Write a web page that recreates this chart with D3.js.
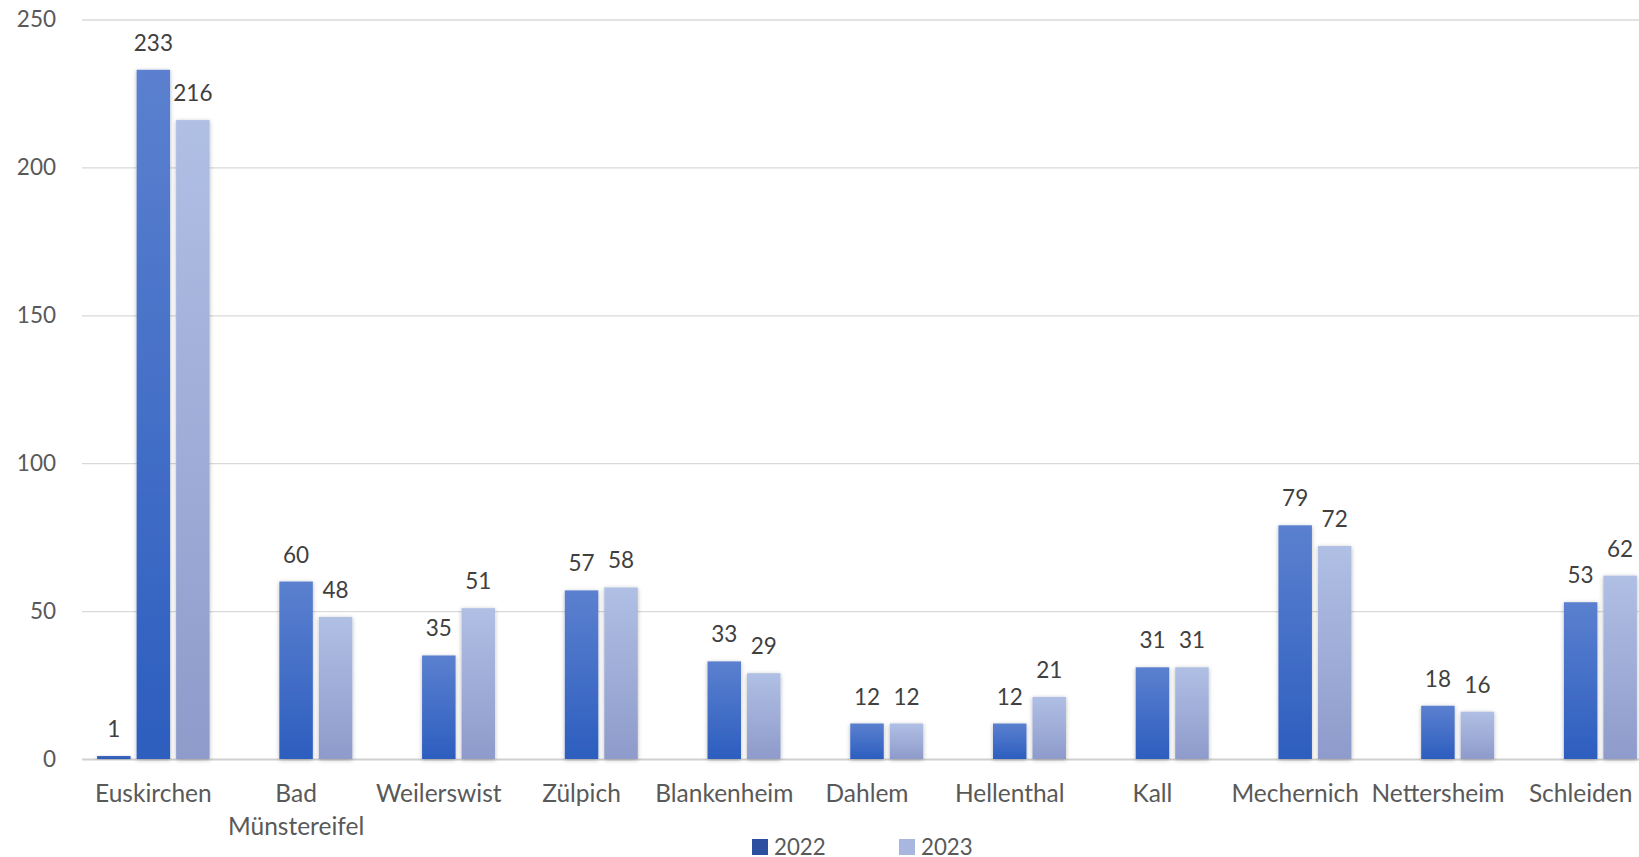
<!DOCTYPE html>
<html><head><meta charset="utf-8">
<script src="https://cdn.jsdelivr.net/npm/d3@7"></script>
<style>
html,body{margin:0;padding:0;background:#fff;overflow:hidden}
svg{display:block;font-family:Lato,"Open Sans",sans-serif}
</style></head>
<body>
<svg id="chart" width="1639" height="857"></svg>
<script>
const categories = ["Euskirchen","Bad Münstereifel","Weilerswist","Zülpich","Blankenheim","Dahlem","Hellenthal","Kall","Mechernich","Nettersheim","Schleiden"];
const seriesNames = ["", "2022", "2023"];
const valuesExtra = [1, null, null, null, null, null, null, null, null, null, null];
const values2022 = [233, 60, 35, 57, 33, 12, 12, 31, 79, 18, 53];
const values2023 = [216, 48, 51, 58, 29, 12, 21, 31, 72, 16, 62];
const yTicks = [0, 50, 100, 150, 200, 250];
const legendSeries = ["2022", "2023"];

const seriesValues = [valuesExtra, values2022, values2023];
const svg = d3.select("#chart");
const W = 1639, H = 857;
const plot = {left: 82, right: 1652, top: 19.5, bottom: 759};

const defs = svg.append("defs");
function grad(id, c1, c2){
  const g = defs.append("linearGradient").attr("id", id).attr("x1",0).attr("y1",0).attr("x2",0).attr("y2",1);
  g.append("stop").attr("offset","0%").attr("stop-color",c1);
  g.append("stop").attr("offset","100%").attr("stop-color",c2);
}
grad("g0", "#3560bd", "#2c5cbc");
grad("g1", "#5b80cf", "#2d5ebf");
grad("g2", "#b0bfe4", "#8e9bcb");
const f = defs.append("filter").attr("id","sh").attr("x","-30%").attr("y","-10%").attr("width","160%").attr("height","120%");
f.append("feDropShadow").attr("dx",0).attr("dy",1).attr("stdDeviation",2.2).attr("flood-color","#000").attr("flood-opacity",0.28);

const y = d3.scaleLinear().domain([0, 250]).range([plot.bottom, plot.top]);
const x0 = d3.scaleBand().domain(categories).range([plot.left, plot.right]).padding(0);
const groupW = 112.5;
const x1 = d3.scaleBand().domain(seriesNames).range([0, groupW]).paddingInner(0.152).paddingOuter(0);

// gridlines
const yAxis = d3.axisLeft(y).tickValues(yTicks).tickSize(-(W - plot.left)).tickPadding(26);
const gy = svg.append("g").attr("transform", `translate(${plot.left},0)`).call(yAxis);
gy.select(".domain").remove();
gy.selectAll(".tick line").attr("stroke", d => d === 0 ? "#d0d0d0" : "#d9d9d9").attr("stroke-width", d => d === 0 ? 2 : 1.3);
gy.selectAll(".tick text").attr("fill", "#595959").attr("font-size", 22.5).attr("font-family", "Lato,sans-serif");

// bars
const fills = ["url(#g0)", "url(#g1)", "url(#g2)"];
const groups = svg.append("g").selectAll("g").data(categories).join("g")
  .attr("transform", d => `translate(${x0(d) + (x0.bandwidth() - groupW)/2},0)`);
seriesNames.forEach((s, si) => {
  groups.each(function(c, ci){
    const v = seriesValues[si][ci];
    if (v == null) return;
    const g = d3.select(this);
    g.append("rect")
      .attr("x", x1(s)).attr("width", x1.bandwidth())
      .attr("y", y(v)).attr("height", y(0) - y(v))
      .attr("fill", fills[si]).attr("filter", "url(#sh)");
    g.append("text")
      .attr("x", x1(s) + x1.bandwidth()/2).attr("y", y(v) - 19)
      .attr("text-anchor", "middle").attr("font-size", 22.5).attr("fill", "#404040")
      .text(v);
  });
});

// category labels
const xAxisG = svg.append("g");
categories.forEach(c => {
  const cx = x0(c) + x0.bandwidth()/2;
  const words = c.split(" ");
  const lines = (c.length > 13) ? words : [c];
  const t = xAxisG.append("text").attr("text-anchor","middle").attr("font-size",24.5).attr("fill","#595959");
  lines.forEach((l, i) => t.append("tspan").attr("x", cx).attr("y", 802 + i*33).text(l));
});

// legend
const legendColors = {"2022": "#2c509f", "2023": "#a9b7e0"};
const legendX = {"2022": 752, "2023": 899};
const lg = svg.append("g");
legendSeries.forEach(s => {
  lg.append("rect").attr("x", legendX[s]).attr("y", 839).attr("width", 16).attr("height", 16).attr("fill", legendColors[s]);
  lg.append("text").attr("x", legendX[s] + 22).attr("y", 855).attr("font-size", 22.3).attr("fill", "#595959").text(s);
});
</script>
</body></html>
